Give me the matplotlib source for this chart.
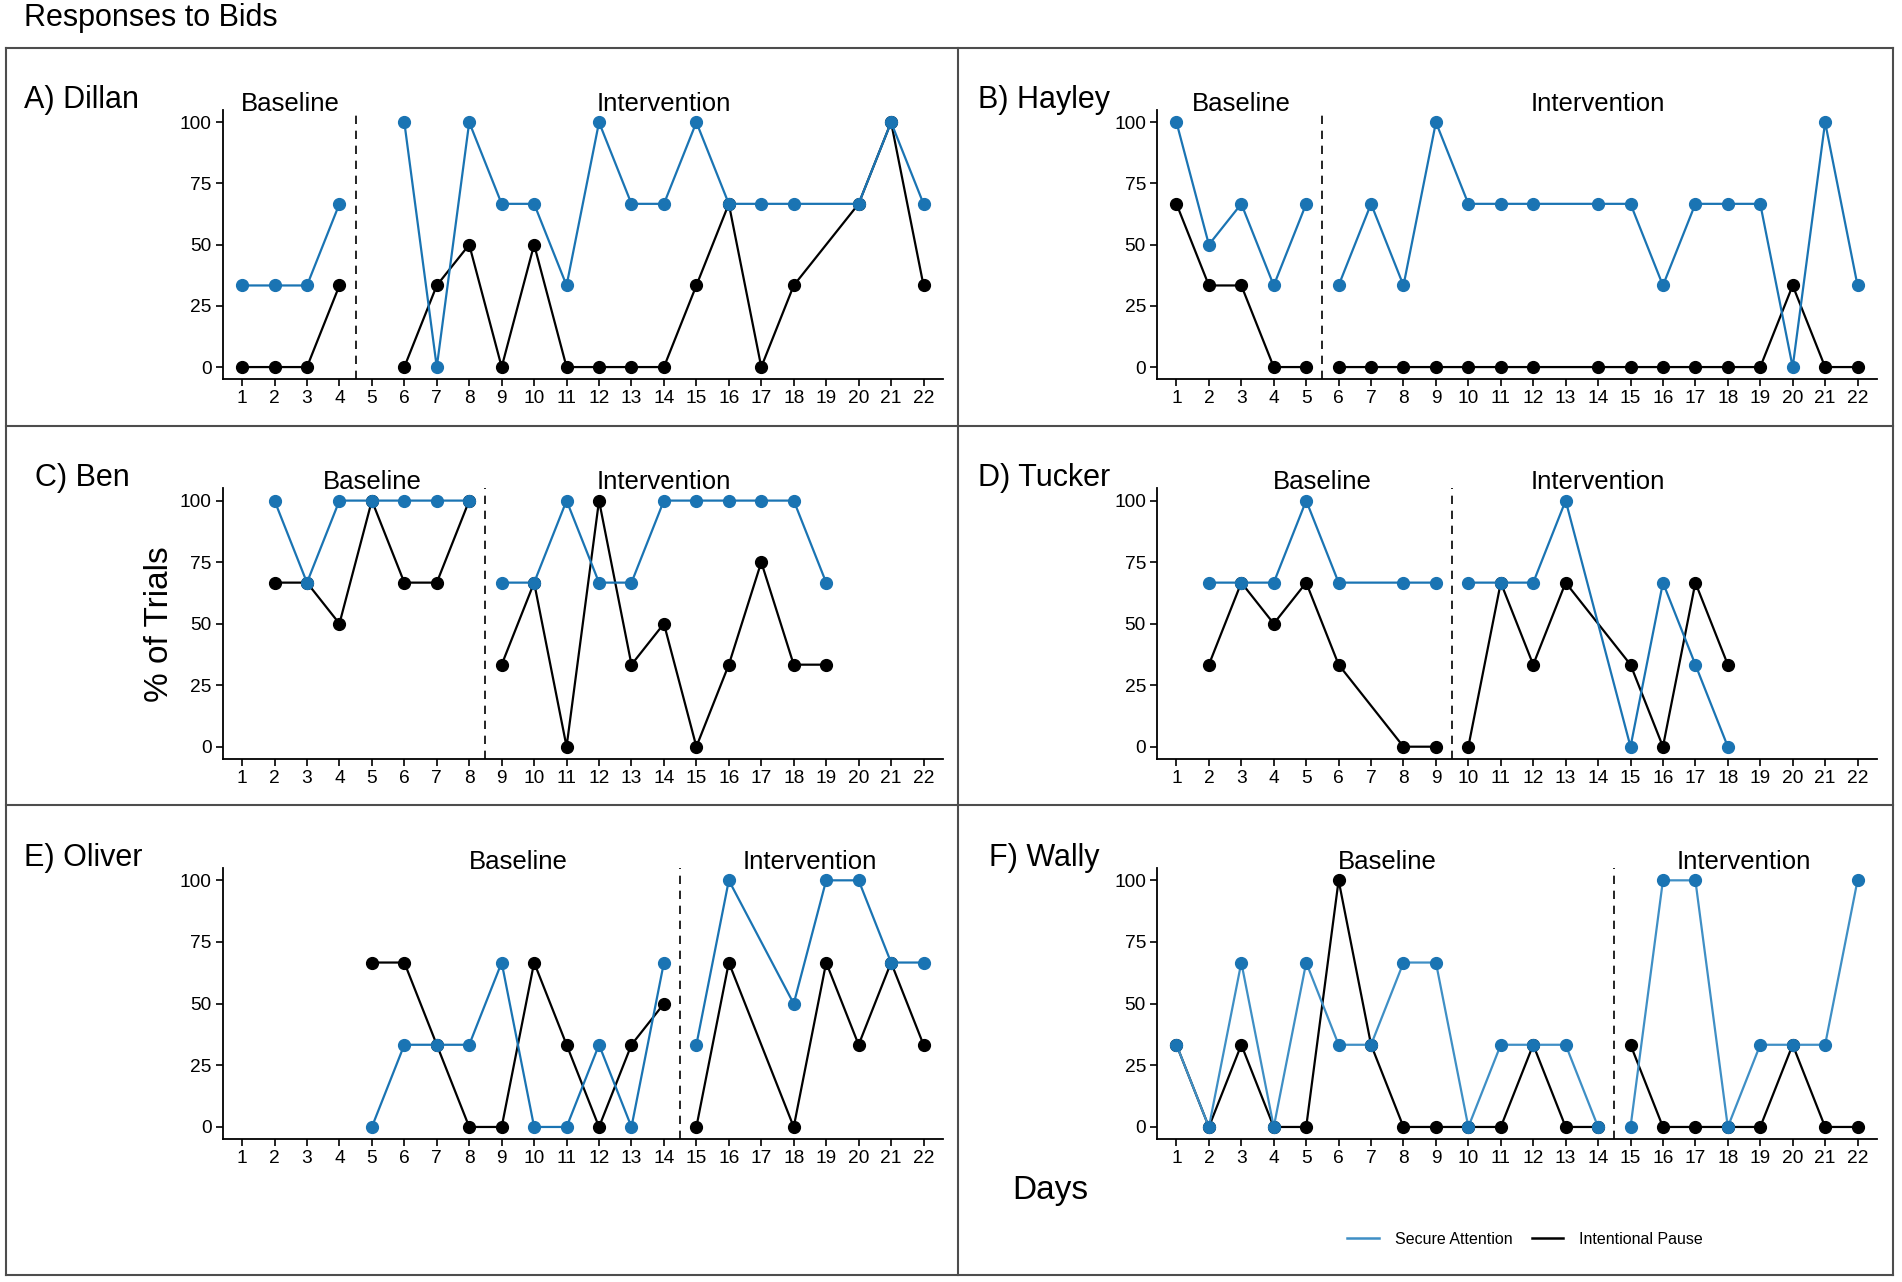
import matplotlib
matplotlib.use("Agg")
import matplotlib.pyplot as plt
from matplotlib.lines import Line2D

plt.rcParams['font.family'] = ['Liberation Sans', 'DejaVu Sans']

days = list(range(1, 23))
N = None

# Secure Attention (blue) and Intentional Pause (black) per day; None = no session
dillan_sa = [33.33, 33.33, 33.33, 66.67, N, 100, 0, 100, 66.67, 66.67, 33.33, 100, 66.67, 66.67, 100, 66.67, 66.67, 66.67, N, 66.67, 100, 66.67]
dillan_ip = [0, 0, 0, 33.33, N, 0, 33.33, 50, 0, 50, 0, 0, 0, 0, 33.33, 66.67, 0, 33.33, N, 66.67, 100, 33.33]
hayley_sa = [100, 50, 66.67, 33.33, 66.67, 33.33, 66.67, 33.33, 100, 66.67, 66.67, 66.67, N, 66.67, 66.67, 33.33, 66.67, 66.67, 66.67, 0, 100, 33.33]
hayley_ip = [66.67, 33.33, 33.33, 0, 0, 0, 0, 0, 0, 0, 0, 0, N, 0, 0, 0, 0, 0, 0, 33.33, 0, 0]
ben_sa = [N, 100, 66.67, 100, 100, 100, 100, 100, 66.67, 66.67, 100, 66.67, 66.67, 100, 100, 100, 100, 100, 66.67, N, N, N]
ben_ip = [N, 66.67, 66.67, 50, 100, 66.67, 66.67, 100, 33.33, 66.67, 0, 100, 33.33, 50, 0, 33.33, 75, 33.33, 33.33, N, N, N]
tucker_sa = [N, 66.67, 66.67, 66.67, 100, 66.67, N, 66.67, 66.67, 66.67, 66.67, 66.67, 100, N, 0, 66.67, 33.33, 0, N, N, N, N]
tucker_ip = [N, 33.33, 66.67, 50, 66.67, 33.33, N, 0, 0, 0, 66.67, 33.33, 66.67, N, 33.33, 0, 66.67, 33.33, N, N, N, N]
oliver_sa = [N, N, N, N, 0, 33.33, 33.33, 33.33, 66.67, 0, 0, 33.33, 0, 66.67, 33.33, 100, N, 50, 100, 100, 66.67, 66.67]
oliver_ip = [N, N, N, N, 66.67, 66.67, 33.33, 0, 0, 66.67, 33.33, 0, 33.33, 50, 0, 66.67, N, 0, 66.67, 33.33, 66.67, 33.33]
wally_sa = [33.33, 0, 66.67, 0, 66.67, 33.33, 33.33, 66.67, 66.67, 0, 33.33, 33.33, 33.33, 0, 0, 100, 100, 0, 33.33, 33.33, 33.33, 100]
wally_ip = [33.33, 0, 33.33, 0, 0, 100, 33.33, 0, 0, 0, 0, 33.33, 0, 0, 33.33, 0, 0, 0, 0, 33.33, 0, 0]

panel_titles = ["A) Dillan", "B) Hayley", "C) Ben", "D) Tucker", "E) Oliver", "F) Wally"]
phase_change = [4.5, 5.5, 8.5, 9.5, 14.5, 14.5]
sa_series = [dillan_sa, hayley_sa, ben_sa, tucker_sa, oliver_sa, wally_sa]
ip_series = [dillan_ip, hayley_ip, ben_ip, tucker_ip, oliver_ip, wally_ip]

BLUE = "#1a74b3"
BLUE_W = "#3f8fc5"
W, H = 1902, 1282
fig = plt.figure(figsize=(W / 100, H / 100), dpi=100)

cols = [(222.6, 943.0), (1157.0, 1877.0)]
rows = [(110.0, 379.3), (488.3, 759.0), (868.0, 1139.3)]
label_x = [24, 978, 35, 978, 24, 989]

def segs(x, y, split):
    out = []
    for cond in (lambda d: d < split, lambda d: d > split):
        xs = [d for d, v in zip(x, y) if v is not None and cond(d)]
        ys = [v for d, v in zip(x, y) if v is not None and cond(d)]
        out.append((xs, ys))
    return out

for i in range(6):
    r, c = divmod(i, 2)
    l, rt = cols[c]
    t, b = rows[r]
    ax = fig.add_axes([l / W, 1 - b / H, (rt - l) / W, (b - t) / H])
    ax.set_xlim(0.4, 22.6)
    ax.set_ylim(-5, 105)
    split = phase_change[i]
    lc = BLUE_W if i == 5 else BLUE
    for xs, ys in segs(days, ip_series[i], split):
        ax.plot(xs, ys, color="black", lw=1.6, zorder=2)
        ax.plot(xs, ys, 'o', color="black", ms=8.5, zorder=3)
    for xs, ys in segs(days, sa_series[i], split):
        ax.plot(xs, ys, color=lc, lw=1.6, zorder=4)
        ax.plot(xs, ys, 'o', color=BLUE, ms=8.5, zorder=5)
    ax.axvline(split, color="black", ls=(0, (5, 4)), lw=1.2)
    base_days = [d for d, v in zip(days, sa_series[i]) if v is not None and d < split]
    int_days = [d for d, v in zip(days, sa_series[i]) if v is not None and d > split]
    ax.text((min(base_days) + max(base_days)) / 2, 107.6, "Baseline",
            ha="center", va="center", fontsize=18.5, clip_on=False)
    ax.text((min(int_days) + max(int_days)) / 2, 107.6, "Intervention",
            ha="center", va="center", fontsize=18.5, clip_on=False)
    ax.set_xticks(days)
    ax.set_xticklabels([str(d) for d in days], fontsize=13.8)
    ax.set_yticks([0, 25, 50, 75, 100])
    ax.set_yticklabels(["0", "25", "50", "75", "100"], fontsize=13.8)
    for s in ("top", "right"):
        ax.spines[s].set_visible(False)
    for s in ("left", "bottom"):
        ax.spines[s].set_linewidth(1.3)
    ax.tick_params(length=5, width=1.2, color="black", labelcolor="black", pad=3)
    fig.text(label_x[i] / W, 1 - (t - 10) / H, panel_titles[i],
             fontsize=22, ha="left", va="center")

fig.text(24 / W, 1 - 18 / H, "Responses to Bids", fontsize=22, ha="left", va="center")
fig.text(159 / W, 1 - 624 / H, "% of Trials", fontsize=24, rotation=90, ha="center", va="center")
fig.text(1050 / W, 1 - 1191 / H, "Days", fontsize=24, ha="center", va="center")

# panel frames
fc = "#4d4d4d"
for x0, y0, x1, y1 in [(6, 48, 1893, 48), (6, 1275, 1893, 1275), (6, 48, 6, 1275),
                       (1893, 48, 1893, 1275), (958, 48, 958, 1275),
                       (6, 426, 1893, 426), (6, 805, 1893, 805)]:
    fig.add_artist(Line2D([x0 / W, x1 / W], [1 - y0 / H, 1 - y1 / H], color=fc, lw=1.5))

handles = [Line2D([], [], color=BLUE_W, lw=1.8), Line2D([], [], color="black", lw=1.8)]
fig.legend(handles, ["Secure Attention", "Intentional Pause"], loc="center",
           bbox_to_anchor=(1525 / W, 1 - 1239 / H), ncol=2, frameon=False,
           fontsize=11.5, handlelength=2.0, columnspacing=1.2, handletextpad=1.0)

fig.savefig("out.png", dpi=100)
